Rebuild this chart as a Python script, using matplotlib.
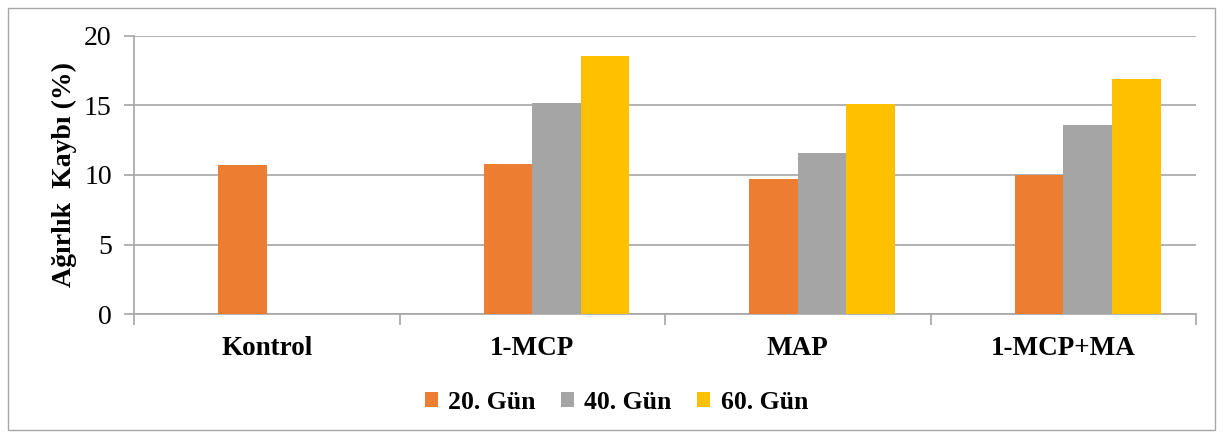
import matplotlib
matplotlib.use("Agg")
import matplotlib.pyplot as plt
import numpy as np
from matplotlib.patches import Rectangle

categories = ["Kontrol", "1-MCP", "MAP", "1-MCP+MA"]
series_names = ["20. Gün", "40. Gün", "60. Gün"]
gun20 = [10.7, 10.8, 9.7, 10.0]
gun40 = [np.nan, 15.2, 11.6, 13.6]
gun60 = [np.nan, 18.55, 15.1, 16.9]
colors = ["#ED7D31", "#A5A5A5", "#FFC000"]
yticks = [0, 5, 10, 15, 20]

plt.rcParams['font.family'] = ['Liberation Serif', 'DejaVu Serif']

fig = plt.figure(figsize=(12.23, 4.38), dpi=100)
ax = fig.add_axes([0.1096, 0.283, 0.978 - 0.1096, 0.918 - 0.283])

x = np.arange(len(categories))
w = 0.183
offsets = [-0.5, 0.5, 1.5]
for vals, off, col, name in zip([gun20, gun40, gun60], offsets, colors, series_names):
    ax.bar(x + off * w, vals, width=w, color=col, label=name, zorder=3)

grid_col = "#A6A6A6"
ax.set_xlim(-0.5, len(categories) - 0.5)
ax.set_ylim(0, 20)
ax.set_yticks(yticks)
ax.set_yticklabels([str(t) for t in yticks], fontsize=20)
ax.yaxis.grid(True, color=grid_col, linewidth=1.2, zorder=0)
ax.set_axisbelow(True)

ax.set_xticks(x)
ax.set_xticklabels(categories, fontsize=19.5, fontweight='bold')
ax.tick_params(axis='x', length=0, pad=16)
ax.set_xticks(np.arange(-0.5, len(categories)), minor=True)
ax.tick_params(axis='x', which='minor', length=8, color=grid_col, width=1.2)
ax.tick_params(axis='y', length=7, color=grid_col, width=1.2, pad=9)

for s in ['top', 'right']:
    ax.spines[s].set_visible(False)
for s in ['left', 'bottom']:
    ax.spines[s].set_color(grid_col)
    ax.spines[s].set_linewidth(1.2)

ax.set_ylabel("Ağırlık  Kaybı (%)", fontsize=20, fontweight='bold', labelpad=5)

leg = fig.legend(loc='center', bbox_to_anchor=(0.504, 0.082), ncol=3, frameon=False,
                 prop={'family': 'Liberation Serif', 'weight': 'bold', 'size': 18.5},
                 handlelength=0.5, handleheight=0.5, handletextpad=0.4, columnspacing=1.0)

fig.patches.append(Rectangle((8 / 1223, 1 - 430 / 438), (1215 - 8) / 1223, (430 - 8) / 438,
                             transform=fig.transFigure, fill=False, edgecolor="#A6A6A6",
                             linewidth=1.0))

fig.savefig("out.png", dpi=100)
